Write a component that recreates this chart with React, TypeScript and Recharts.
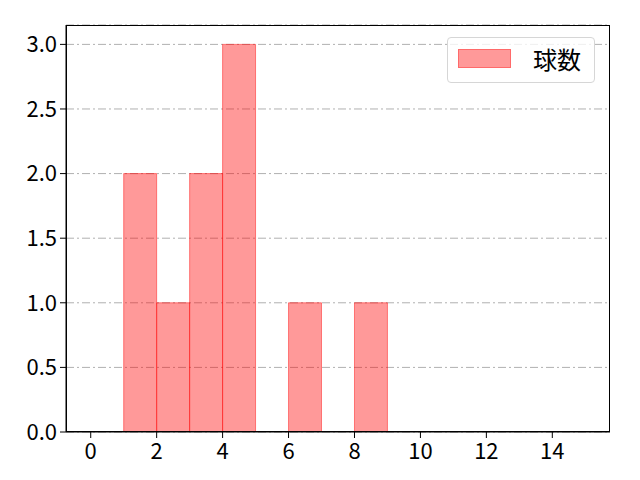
import React from 'react';
import {
  ComposedChart,
  Bar,
  XAxis,
  YAxis,
  CartesianGrid,
} from 'recharts';

// histogram bins (width 1), only the non-empty ones
const binStarts = [1, 2, 3, 4, 6, 8];
const counts = [2, 1, 2, 3, 1, 1];
const xTicks = [0, 2, 4, 6, 8, 10, 12, 14];
const yTicks = [0, 0.5, 1, 1.5, 2, 2.5, 3];
const seriesName = '球数';

const data = binStarts.map((s, i) => ({ mid: s + 0.5, count: counts[i] }));

const FONT = '"Noto Sans CJK JP", "DejaVu Sans", sans-serif';
const M = { top: 25, right: 30, left: 0, bottom: 0 };
const Y_W = 66;
const X_H = 48;
const PLOT_W = 640 - M.right - Y_W;
const PLOT_H = 480 - M.top - X_H;
const X_MIN = -0.75;
const X_MAX = 15.75;
// a hair under one bin so recharts does not shrink the bars
const BAR_W = PLOT_W / (X_MAX - X_MIN) - 0.02;

const LegendBox = () => (
  <div
    style={{
      position: 'absolute',
      left: 447,
      top: 37,
      width: 148,
      height: 46,
      boxSizing: 'border-box',
      border: '1px solid #d6d6d6',
      borderRadius: 4,
      background: 'rgba(255,255,255,0.8)',
      fontFamily: FONT,
    }}
  >
    <div
      style={{
        position: 'absolute',
        left: 10,
        top: 11,
        width: 53,
        height: 19,
        boxSizing: 'border-box',
        background: 'rgba(255,0,0,0.4)',
        border: '1px solid rgba(255,0,0,0.3)',
      }}
    />
    <div
      style={{
        position: 'absolute',
        left: 85,
        top: 3,
        fontSize: 24,
        lineHeight: '36px',
        color: '#000',
      }}
    >
      {seriesName}
    </div>
  </div>
);

export default function App() {
  return (
    <div style={{ position: 'absolute', left: 0, top: 0, width: 640, height: 480, background: '#fff' }}>
      <ComposedChart width={640} height={480} data={data} margin={M}>
        <CartesianGrid
          vertical={false}
          stroke="#b0b0b0"
          strokeDasharray="8 3 2 3"
        />
        <XAxis
          dataKey="mid"
          type="number"
          domain={[X_MIN, X_MAX]}
          ticks={xTicks}
          allowDataOverflow
          height={X_H}
          stroke="#000"
          tickSize={6}
          tick={{ fill: '#000', fontSize: 22, fontFamily: FONT, dy: 3 }}
        />
        <YAxis
          type="number"
          domain={[0, 3.15]}
          ticks={yTicks}
          allowDataOverflow
          width={Y_W}
          stroke="#000"
          tickSize={6}
          tickFormatter={(v: number) => v.toFixed(1)}
          tick={{ fill: '#000', fontSize: 22, fontFamily: FONT, dx: -1 }}
        />
        <Bar
          dataKey="count"
          name={seriesName}
          barSize={BAR_W}
          fill="#ff0000"
          fillOpacity={0.4}
          stroke="#ff0000"
          strokeOpacity={0.45}
          strokeWidth={1}
          isAnimationActive={false}
        />
      </ComposedChart>
      {/* axes frame */}
      <div
        style={{
          position: 'absolute',
          left: Y_W,
          top: M.top,
          width: PLOT_W,
          height: PLOT_H,
          boxSizing: 'border-box',
          border: '1px solid #000',
          pointerEvents: 'none',
        }}
      />
      <LegendBox />
    </div>
  );
}
